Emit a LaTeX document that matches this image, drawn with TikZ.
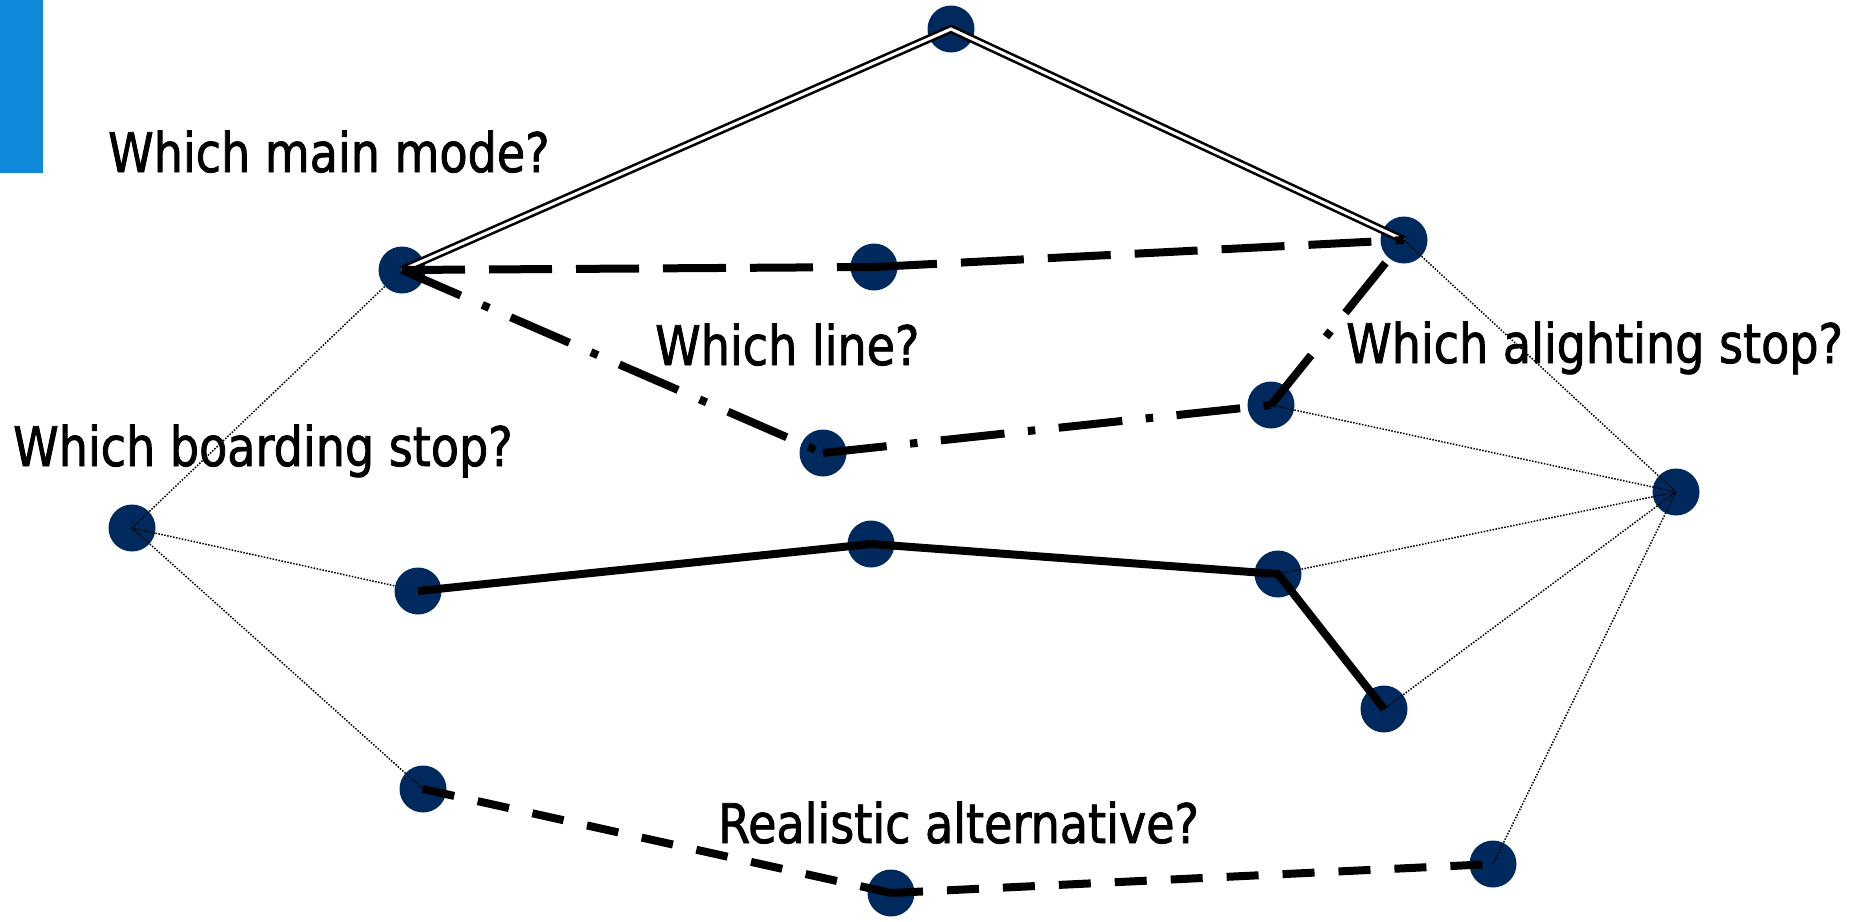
\documentclass[tikz,border=0pt]{standalone}
\usepackage{fontspec}
\setmainfont{DejaVu Sans}[FakeStretch=0.845,FakeBold=1.5]
\definecolor{barblue}{RGB}{17,137,219}
\definecolor{stopnavy}{RGB}{0,42,94}
\begin{document}
\begin{tikzpicture}[x=1pt,y=-1pt,
  stopnode/.style={circle,fill=stopnavy,minimum size=47pt,inner sep=0pt},
  question/.style={anchor=base west,inner sep=0pt,font=\fontsize{54.5}{60}\selectfont},
  heavy/.style={line width=8pt,line cap=butt,line join=miter},
  longdash/.style={heavy,dash pattern=on 63pt off 24pt},
  dashdotline/.style={heavy,dash pattern=on 64pt off 23.5pt on 7.5pt off 23.5pt},
  shortdash/.style={heavy,dash pattern=on 32pt off 24pt},
  walk/.style={line width=1.5pt,dash pattern=on 1.5pt off 1.5pt},
  mainmode/.style={double=white,line width=2.6pt,double distance=3pt,line join=miter}]
\useasboundingbox (0,0) rectangle (1855,921);

% accent bar
\fill[barblue] (0,0) rectangle (43,173);

% stops
\node[stopnode] (A) at (951,29) {};
\node[stopnode] (B) at (402,270) {};
\node[stopnode] (C) at (874,267) {};
\node[stopnode] (D) at (1404,240) {};
\node[stopnode] (E) at (823,453) {};
\node[stopnode] (F) at (1271,405) {};
\node[stopnode] (G) at (132,528) {};
\node[stopnode] (H) at (418,591) {};
\node[stopnode] (I) at (871,544) {};
\node[stopnode] (J) at (1278,574) {};
\node[stopnode] (K) at (1384,709) {};
\node[stopnode] (L) at (1676,492) {};
\node[stopnode] (M) at (423,789) {};
\node[stopnode] (N) at (891,893) {};
\node[stopnode] (O) at (1493,864) {};

% questions
\node[question] (qmode)  at (108,172) {Which main mode?};
\node[question] (qline)  at (655,365) {Which line?};
\node[question] (qalight) at (1346,363) {Which alighting stop?};
\node[question] (qboard) at (13,466) {Which boarding stop?};
\node[question] (qalt)   at (718,843) {Realistic alternative?};

% main mode
\draw[mainmode] (B.center) -- (A.center) -- (D.center);

% line alternatives
\draw[longdash] (B.center) -- (C.center);
\draw[longdash] (C.center) -- (D.center);
\draw[dashdotline] (B.center) -- (E.center);
\draw[dashdotline] (E.center) -- (F.center);
\draw[dashdotline] (F.center) -- (D);
\draw[heavy] (H.center) -- (I.center);
\draw[heavy] (I.center) -- (J.center) -- (K.center);
\draw[shortdash] (M.center) -- (N.center);
\draw[shortdash] (N.center) -- (O.center);

% access and egress
\draw[walk] (G.center) -- (B);
\draw[walk] (G.center) -- (H);
\draw[walk] (G.center) -- (M.center);
\draw[walk] (D.center) -- (L.center);
\draw[walk] (F.center) -- (L.center);
\draw[walk] (J.center) -- (L.center);
\draw[walk] (K.center) -- (L.center);
\draw[walk] (O.center) -- (L.center);
\end{tikzpicture}
\end{document}
